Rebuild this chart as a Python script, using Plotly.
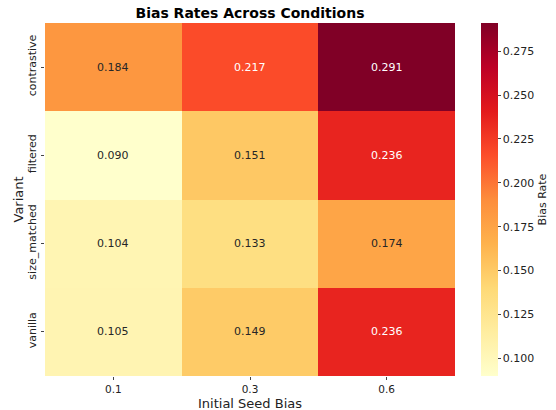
import plotly.graph_objects as go

variants = ["contrastive", "filtered", "size_matched", "vanilla"]
seed_bias = ["0.1", "0.3", "0.6"]
rates = [
    [0.184, 0.217, 0.291],
    [0.090, 0.151, 0.236],
    [0.104, 0.133, 0.174],
    [0.105, 0.149, 0.236],
]
cbar_ticks = [0.100, 0.125, 0.150, 0.175, 0.200, 0.225, 0.250, 0.275]

ylorrd = ["#ffffcc", "#ffeda0", "#fed976", "#feb24c", "#fd8d3c",
          "#fc4e2a", "#e31a1c", "#bd0026", "#800026"]
cs = [[i / (len(ylorrd) - 1), c] for i, c in enumerate(ylorrd)]

flat = [v for row in rates for v in row]
zmin, zmax = min(flat), max(flat)

W, H = 556, 410
ML, MR, MT, MB = 45, 101, 23, 34
PW, PH = W - ML - MR, H - MT - MB

fig = go.Figure(go.Heatmap(
    z=rates, x=seed_bias, y=variants,
    colorscale=cs, zmin=zmin, zmax=zmax,
    xgap=0, ygap=0,
    colorbar=dict(
        title=dict(text="Bias Rate", side="right", font=dict(size=11, color="#222")),
        tickvals=cbar_ticks, ticktext=[f"{t:.3f}" for t in cbar_ticks],
        ticks="outside", ticklen=3, tickfont=dict(size=11, color="#222"),
        thickness=17, len=1.0, lenmode="fraction", y=0.5, yanchor="middle",
        x=481 / W, xref="container", xanchor="left", outlinewidth=0, xpad=0, ypad=0,
    ),
    hoverinfo="skip",
))

annotations = []
for i, v in enumerate(variants):
    for j, s in enumerate(seed_bias):
        val = rates[i][j]
        frac = (val - zmin) / (zmax - zmin)
        annotations.append(dict(
            x=j, y=i, xref="x", yref="y", text=f"{val:.3f}", showarrow=False,
            font=dict(size=11, color="white" if frac > 0.58 else "#262626"),
        ))

# axis titles
annotations.append(dict(text="Initial Seed Bias", xref="paper", yref="paper",
                        x=0.5, y=-(403.5 - (H - MB)) / PH, xanchor="center", yanchor="middle",
                        showarrow=False, font=dict(size=13, color="#222")))
annotations.append(dict(text="Variant", xref="paper", yref="paper",
                        x=(18 - ML) / PW, y=0.5, xanchor="center", yanchor="middle",
                        textangle=-90, showarrow=False, font=dict(size=13, color="#222")))

fig.update_layout(
    width=W, height=H,
    margin=dict(l=ML, r=MR, t=MT, b=MB, autoexpand=False),
    paper_bgcolor="white", plot_bgcolor="white",
    font=dict(family="DejaVu Sans", color="#222"),
    title=dict(text="<b>Bias Rates Across Conditions</b>", x=0.5, xref="paper",
               y=1 - 13 / H, yanchor="middle", yref="container",
               font=dict(size=14, color="black")),
    annotations=annotations,
    xaxis=dict(type="category", automargin=False,
               ticks="outside", ticklen=3, tickfont=dict(size=10.5), showgrid=False, zeroline=False),
    yaxis=dict(type="category", automargin=False,
               autorange="reversed", tickangle=-90,
               ticks="outside", ticklen=3.5, tickfont=dict(size=11), showgrid=False, zeroline=False),
)

fig.write_html("out.html", config={"displayModeBar": False},
               post_script="document.body.style.margin='0';")
